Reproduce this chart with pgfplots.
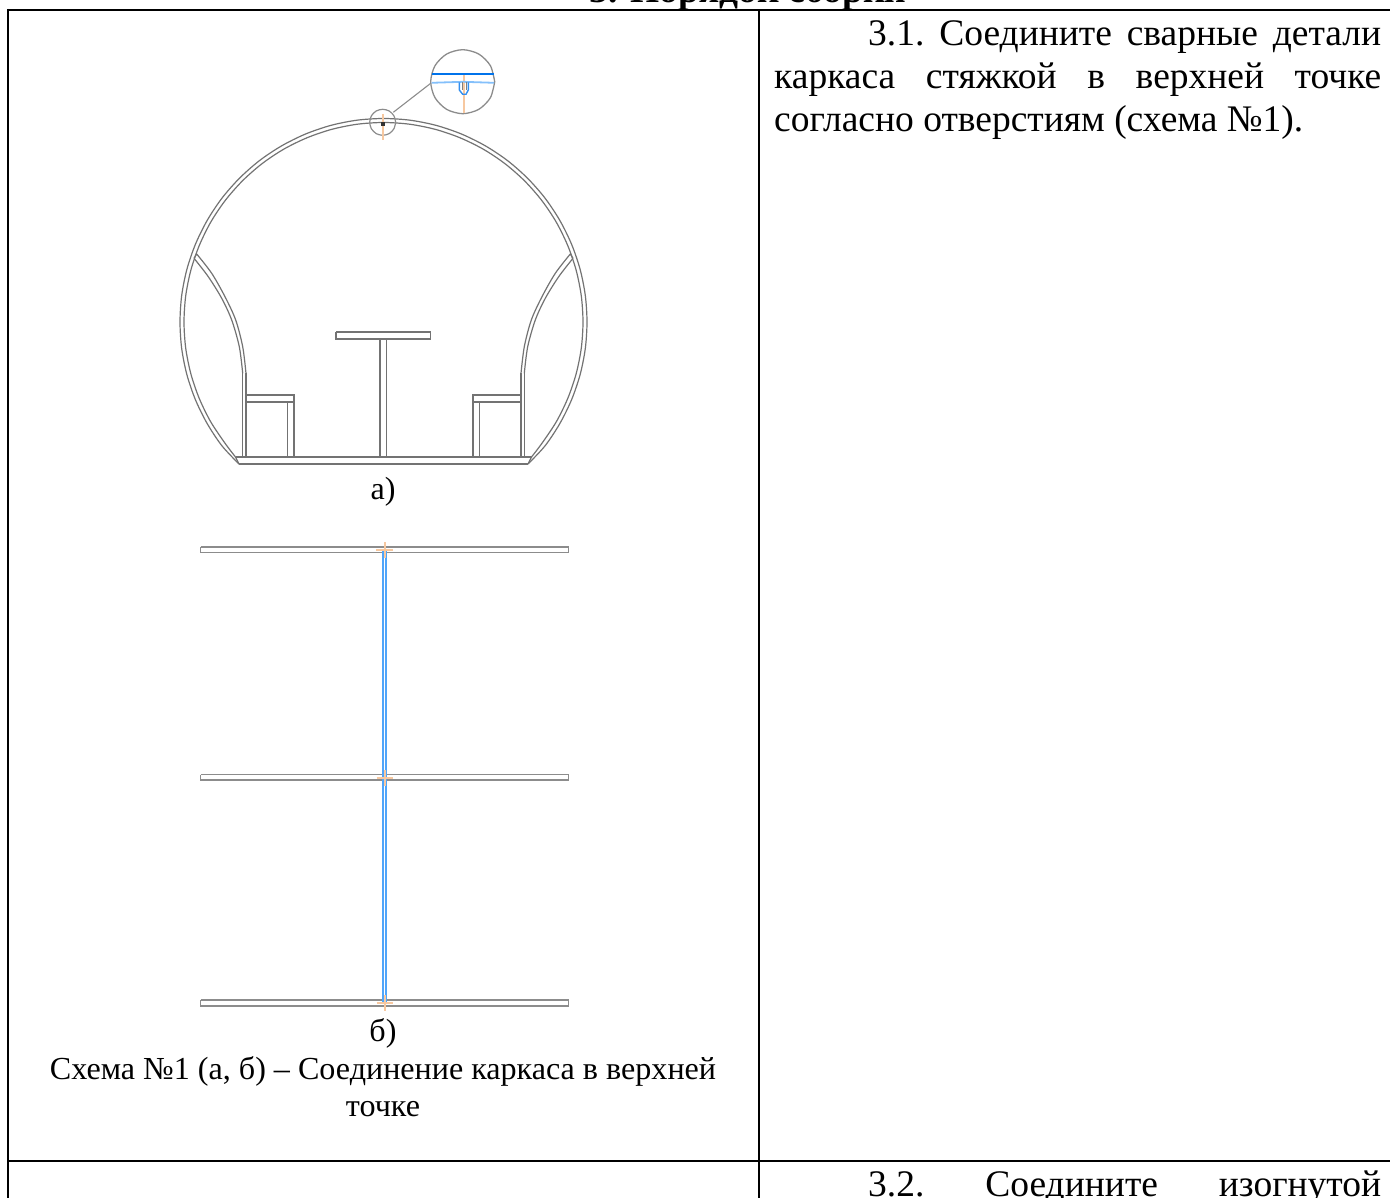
\documentclass[border=0pt]{standalone}
\usepackage{fontspec}
\setmainfont{Liberation Serif}
\usepackage{pgfplots}
\pgfplotsset{compat=1.18}
\definecolor{pipe}{RGB}{115,115,115}
\definecolor{barline}{RGB}{140,140,140}
\definecolor{blueA}{RGB}{80,165,250}
\definecolor{blueB}{RGB}{0,115,235}
\definecolor{orng}{RGB}{247,200,160}
\tikzset{
  part/.style={draw=pipe,line width=1.2pt},
  bar/.style={draw=barline,line width=1.5pt},
  tabrule/.style={draw=black,line width=2pt},
  txt/.style={anchor=base west,inner sep=0pt,font=\frenchspacing\fontsize{37.5}{43}\selectfont},
  captxt/.style={anchor=base,inner sep=0pt,font=\frenchspacing\fontsize{32.1}{37}\selectfont},
}
\begin{document}
\begin{tikzpicture}
\useasboundingbox (0,0) rectangle (1390pt,1198pt);
\begin{axis}[
  at={(0,0)},anchor=south west,
  scale only axis,width=1390pt,height=1198pt,
  xmin=0,xmax=1390,ymin=0,ymax=1198,
  y dir=reverse,
  hide axis,
  clip=false,
  no markers,
]
% table rules
\addplot[tabrule] coordinates {(7,10) (1390,10)};
\addplot[tabrule] coordinates {(8,9) (8,1198)};
\addplot[tabrule] coordinates {(759,10) (759,1198)};
\addplot[tabrule] coordinates {(8,1161) (1390,1161)};

% view a: outer shell
\addplot[part,smooth] coordinates {
(239,464) (222,445.9) (207.3,423.8) (195.5,399.9) (186.9,374.7) (181.7,348.6) (180,322)
(181.7,295.4) (186.9,269.3) (195.5,244.1) (207.3,220.2) (222,198.1) (239.6,178.1)
(259.6,160.5) (281.7,145.8) (305.6,134) (330.8,125.4) (356.9,120.2) (383.5,118.5)
(410.1,120.2) (436.2,125.4) (461.4,134) (485.3,145.8) (507.4,160.5) (527.4,178.1)
(545,198.1) (559.7,220.2) (571.5,244.1) (580.1,269.3) (585.3,295.4) (587,322)
(585.3,348.6) (580.1,374.7) (571.5,399.9) (559.7,423.8) (545,445.9) (528,464)};
\addplot[part,smooth] coordinates {
(235.5,457) (225.2,443.5) (210.7,421.8) (199.2,398.3) (190.8,373.6) (185.7,348) (184,322)
(185.7,296) (190.8,270.4) (199.2,245.7) (210.7,222.2) (225.2,200.5) (242.4,180.9)
(262,163.7) (283.7,149.2) (307.2,137.7) (331.9,129.3) (357.5,124.2) (383.5,122.5)
(409.5,124.2) (435.1,129.3) (459.8,137.7) (483.3,149.2) (505,163.7) (524.6,180.9)
(541.8,200.5) (556.3,222.2) (567.8,245.7) (576.2,270.4) (581.3,296) (583,322)
(581.3,348) (576.2,373.6) (567.8,398.3) (556.3,421.8) (541.8,443.5) (531.5,457)};
\addplot[part] coordinates {(235.5,457) (239,464)};
\addplot[part] coordinates {(531.5,457) (528,464)};

% seat backs
\addplot[part,smooth] coordinates {(196.7,254) (211.7,273.3) (225,296.7) (235.7,320) (242.7,346.7) (246,373.3)};
\addplot[part,smooth] coordinates {(194,258.3) (208.3,276.7) (221.7,298.3) (231.7,320) (239.3,346.7) (242.7,373.3)};
\addplot[part] coordinates {(246,373.3) (246,457)};
\addplot[part] coordinates {(242.7,373.3) (242.7,457)};
\addplot[part] coordinates {(196.7,254) (194,258.3)};
\addplot[part,smooth] coordinates {(570.3,254) (555.3,273.3) (542,296.7) (531.3,320) (524.3,346.7) (521,373.3)};
\addplot[part,smooth] coordinates {(573,258.3) (558.7,276.7) (545.3,298.3) (535.3,320) (527.7,346.7) (524.3,373.3)};
\addplot[part] coordinates {(521,373.3) (521,457)};
\addplot[part] coordinates {(524.3,373.3) (524.3,457)};
\addplot[part] coordinates {(570.3,254) (573,258.3)};

% floor, benches, table
\addplot[part] coordinates {(235.5,457) (531.5,457)};
\addplot[part] coordinates {(239,464) (528,464)};
\addplot[part] coordinates {(246,395) (294,395) (294,457)};
\addplot[part] coordinates {(246,402) (294,402)};
\addplot[part] coordinates {(287.3,402) (287.3,457)};
\addplot[part] coordinates {(521,395) (473,395) (473,457)};
\addplot[part] coordinates {(521,402) (473,402)};
\addplot[part] coordinates {(479.7,402) (479.7,457)};
\addplot[part] coordinates {(336,332) (430.5,332) (430.5,339) (336,339) (336,332)};
\addplot[part] coordinates {(380,339) (380,457)};
\addplot[part] coordinates {(386.7,339) (386.7,457)};

% callout small circle
\addplot[draw=gray!90,line width=1.2pt,smooth] coordinates {
(395.7,122.3) (393.9,128.8) (389.2,133.6) (382.7,135.3) (376.2,133.6) (371.4,128.8)
(369.7,122.3) (371.4,115.8) (376.2,111) (382.7,109.3) (389.2,111) (393.9,115.8) (395.7,122.3)};
\addplot[draw=orng,line width=1.3pt] coordinates {(383,114) (383,140)};
\addplot[draw=black!80,line width=3.5pt] coordinates {(383,122) (383,126)};
% callout connector
\addplot[draw=gray!90,line width=1.1pt] coordinates {(393.3,112.3) (430.7,83.3)};
% callout big circle
\addplot[draw=gray!90,line width=1.3pt,smooth] coordinates {
(494.7,81.7) (490.4,97.7) (478.7,109.4) (462.7,113.7) (446.7,109.4) (435,97.7)
(430.7,81.7) (435,65.7) (446.7,54) (462.7,49.7) (478.7,54) (490.4,65.7) (494.7,81.7)};
\addplot[draw=orng,line width=1.6pt] coordinates {(464,75) (464,113.3)};
\addplot[draw=blueB,line width=1.6pt] coordinates {(431.7,74) (494,74)};
\addplot[draw=blueA!70,line width=1.8pt] coordinates {(431.7,82.8) (463,81.8) (494,82.8)};
\addplot[draw=blueB!80,line width=1.4pt] coordinates {(459.3,82.3) (459.3,90) (462.7,94.3) (466,94.3) (468.3,90) (468.3,82.3)};
\addplot[draw=gray,line width=0.9pt] coordinates {(462,82.3) (462,90)};
\addplot[draw=gray,line width=0.9pt] coordinates {(466,82.3) (466,90)};

% view b: cross bars
\addplot[bar] coordinates {(200.5,547) (568.5,547) (568.5,552.5) (200.5,552.5) (200.5,547)};
\addplot[bar] coordinates {(200.5,774.5) (568.5,774.5) (568.5,780) (200.5,780) (200.5,774.5)};
\addplot[bar] coordinates {(200.5,1000) (568.5,1000) (568.5,1006) (200.5,1006) (200.5,1000)};
% view b: blue tube
\addplot[draw=blueA,line width=2.2pt] coordinates {(382.6,549) (382.6,1002)};
\addplot[draw=blueA,line width=2.2pt] coordinates {(386.2,549) (386.2,1002)};
% view b: centre marks
\addplot[draw=orng,line width=2pt] coordinates {(376,549.5) (393,549.5)};
\addplot[draw=orng,line width=2pt] coordinates {(384.5,542) (384.5,558)};
\addplot[draw=orng,line width=2pt] coordinates {(376.5,777.5) (392.5,777.5)};
\addplot[draw=orng,line width=2pt] coordinates {(384.5,770) (384.5,786)};
\addplot[draw=orng,line width=2pt] coordinates {(376.5,1003) (392.5,1003)};
\addplot[draw=orng,line width=2pt] coordinates {(384.5,995) (384.5,1011)};

% text
\node[anchor=base,inner sep=0pt,font=\fontsize{37.5}{43}\selectfont\bfseries] at (axis cs:748,3) {3. Порядок сборки};
\node[txt] at (axis cs:868,46) {\makebox[513pt][s]{3.1. Соедините сварные детали}};
\node[txt] at (axis cs:774,89) {\makebox[607pt][s]{каркаса стяжкой в верхней точке}};
\node[txt] at (axis cs:774,132) {согласно отверстиям (схема №1).};
\node[txt] at (axis cs:868,1196) {\makebox[513pt][s]{3.2. Соедините изогнутой}};
\node[captxt] at (axis cs:383,499) {а)};
\node[captxt] at (axis cs:383,1041) {б)};
\node[captxt] at (axis cs:383,1079) {Схема №1 (а, б) – Соединение каркаса в верхней};
\node[captxt] at (axis cs:383,1116) {точке};
\end{axis}
\end{tikzpicture}
\end{document}
